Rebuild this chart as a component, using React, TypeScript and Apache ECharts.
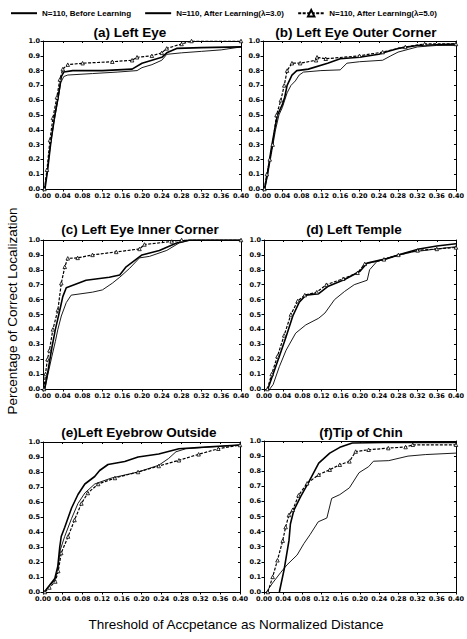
import React, { useEffect, useRef } from "react";
import * as echarts from "echarts";

const seriesNames = [
  "N=110, Before Learning",
  "N=110, After Learning(λ=3.0)",
  "N=110, After Learning(λ=5.0)",
];
const panelTitles = [
  "(a) Left Eye",
  "(b) Left Eye Outer Corner",
  "(c) Left Eye Inner Corner",
  "(d) Left Temple",
  "(e)Left Eyebrow Outside",
  "(f)Tip of Chin",
];
const yAxisName = "Percentage of Correct Localization";
const xAxisName = "Threshold of Accpetance as Normalized Distance";
const xMin = 0, xMax = 0.4, xStep = 0.04;
const yMin = 0, yMax = 1, yStep = 0.1;

// (a) Left Eye
const aBefore = [[0.003,0],[0.008,0.1],[0.015,0.3],[0.022,0.45],[0.03,0.6],[0.036,0.72],[0.042,0.76],[0.05,0.77],[0.1,0.78],[0.15,0.79],[0.19,0.8],[0.2,0.82],[0.22,0.84],[0.24,0.87],[0.25,0.91],[0.28,0.92],[0.32,0.93],[0.36,0.94],[0.4,0.96]];
const aL3 = [[0.004,0],[0.009,0.12],[0.016,0.32],[0.024,0.5],[0.031,0.63],[0.037,0.76],[0.042,0.79],[0.06,0.8],[0.12,0.8],[0.18,0.81],[0.2,0.85],[0.22,0.87],[0.24,0.89],[0.25,0.92],[0.27,0.95],[0.32,0.955],[0.4,0.96]];
const aL5 = [[0.003,0],[0.008,0.13],[0.014,0.33],[0.02,0.48],[0.028,0.62],[0.034,0.74],[0.04,0.81],[0.05,0.84],[0.08,0.85],[0.14,0.86],[0.18,0.87],[0.19,0.89],[0.22,0.9],[0.24,0.92],[0.25,0.95],[0.28,0.98],[0.3,1.0],[0.4,1.0]];
// (b) Left Eye Outer Corner
const bBefore = [[0.004,0],[0.01,0.1],[0.018,0.25],[0.026,0.4],[0.033,0.5],[0.04,0.55],[0.045,0.6],[0.05,0.65],[0.058,0.7],[0.067,0.73],[0.075,0.77],[0.084,0.79],[0.12,0.8],[0.16,0.805],[0.174,0.85],[0.2,0.86],[0.248,0.87],[0.265,0.9],[0.28,0.925],[0.32,0.96],[0.36,0.97],[0.4,0.97]];
const bL3 = [[0.003,0],[0.009,0.1],[0.016,0.25],[0.024,0.4],[0.03,0.5],[0.04,0.57],[0.045,0.62],[0.05,0.7],[0.06,0.77],[0.07,0.8],[0.094,0.81],[0.134,0.85],[0.16,0.88],[0.2,0.89],[0.24,0.91],[0.26,0.93],[0.28,0.95],[0.32,0.97],[0.4,0.98]];
const bL5 = [[0.003,0],[0.008,0.1],[0.014,0.2],[0.02,0.3],[0.028,0.5],[0.037,0.6],[0.044,0.7],[0.05,0.8],[0.06,0.85],[0.077,0.85],[0.11,0.87],[0.112,0.89],[0.13,0.88],[0.2,0.9],[0.248,0.925],[0.295,0.96],[0.335,0.98],[0.4,0.98]];
// (c) Left Eye Inner Corner
const cBefore = [[0.004,0],[0.01,0.1],[0.018,0.22],[0.025,0.32],[0.03,0.4],[0.037,0.49],[0.047,0.58],[0.057,0.63],[0.1,0.65],[0.12,0.665],[0.14,0.71],[0.155,0.75],[0.175,0.81],[0.195,0.88],[0.215,0.89],[0.25,0.93],[0.275,0.98],[0.3,1.0],[0.4,1.0]];
const cL3 = [[0.003,0],[0.01,0.12],[0.018,0.28],[0.025,0.4],[0.034,0.53],[0.04,0.62],[0.047,0.68],[0.087,0.73],[0.134,0.75],[0.155,0.765],[0.168,0.82],[0.188,0.87],[0.2,0.9],[0.235,0.93],[0.27,0.98],[0.295,1.0],[0.4,1.0]];
const cL5 = [[0.002,0],[0.005,0.1],[0.009,0.2],[0.013,0.26],[0.02,0.4],[0.03,0.53],[0.037,0.71],[0.044,0.82],[0.05,0.877],[0.07,0.88],[0.1,0.9],[0.148,0.92],[0.195,0.94],[0.205,0.97],[0.26,0.99],[0.28,1.0],[0.4,1.0]];
// (d) Left Temple
const dBefore = [[0.012,0],[0.019,0.03],[0.032,0.15],[0.046,0.26],[0.066,0.375],[0.087,0.43],[0.114,0.475],[0.127,0.51],[0.147,0.6],[0.168,0.655],[0.188,0.7],[0.215,0.73],[0.22,0.8],[0.235,0.855],[0.27,0.89],[0.31,0.92],[0.36,0.94],[0.4,0.955]];
const dL3 = [[0.008,0],[0.019,0.1],[0.032,0.22],[0.046,0.35],[0.06,0.49],[0.073,0.58],[0.087,0.63],[0.114,0.64],[0.134,0.69],[0.168,0.735],[0.2,0.79],[0.215,0.845],[0.256,0.875],[0.29,0.91],[0.323,0.94],[0.36,0.96],[0.4,0.975]];
const dL5 = [[0.007,0],[0.016,0.1],[0.028,0.22],[0.042,0.36],[0.056,0.5],[0.07,0.59],[0.085,0.63],[0.11,0.65],[0.13,0.7],[0.165,0.74],[0.195,0.78],[0.21,0.84],[0.25,0.87],[0.28,0.9],[0.32,0.93],[0.36,0.94],[0.4,0.95]];
// (e) Left Eyebrow Outside
const eBefore = [[0.003,0],[0.011,0.035],[0.024,0.08],[0.03,0.15],[0.035,0.28],[0.044,0.37],[0.058,0.49],[0.071,0.59],[0.085,0.66],[0.105,0.72],[0.139,0.76],[0.193,0.8],[0.235,0.845],[0.255,0.89],[0.27,0.935],[0.29,0.955],[0.4,0.98]];
const eL3 = [[0.003,0],[0.011,0.035],[0.024,0.09],[0.03,0.17],[0.034,0.3],[0.037,0.37],[0.044,0.43],[0.058,0.56],[0.071,0.65],[0.085,0.72],[0.105,0.77],[0.115,0.81],[0.132,0.85],[0.166,0.87],[0.193,0.9],[0.235,0.92],[0.276,0.955],[0.33,0.967],[0.4,0.98]];
const eL5 = [[0.004,0],[0.013,0.03],[0.025,0.07],[0.031,0.14],[0.037,0.26],[0.051,0.37],[0.064,0.48],[0.078,0.59],[0.091,0.66],[0.112,0.72],[0.146,0.76],[0.193,0.8],[0.235,0.84],[0.276,0.878],[0.316,0.918],[0.356,0.955],[0.4,0.98]];
// (f) Tip of Chin
const fBefore = [[0.005,0],[0.018,0.06],[0.035,0.13],[0.048,0.18],[0.069,0.245],[0.083,0.32],[0.096,0.38],[0.113,0.465],[0.131,0.49],[0.141,0.62],[0.158,0.645],[0.178,0.69],[0.198,0.79],[0.218,0.83],[0.228,0.866],[0.26,0.87],[0.3,0.9],[0.336,0.91],[0.4,0.92]];
const fL3 = [[0.032,0],[0.042,0.15],[0.052,0.34],[0.055,0.45],[0.062,0.54],[0.076,0.63],[0.094,0.733],[0.114,0.854],[0.137,0.92],[0.158,0.958],[0.184,0.987],[0.25,0.99],[0.4,0.99]];
const fL5 = [[0.008,0],[0.018,0.1],[0.028,0.21],[0.039,0.34],[0.045,0.43],[0.052,0.51],[0.06,0.545],[0.072,0.64],[0.09,0.72],[0.114,0.777],[0.137,0.81],[0.158,0.843],[0.178,0.865],[0.191,0.93],[0.218,0.942],[0.259,0.953],[0.295,0.96],[0.31,0.975],[0.4,0.975]];

const panelData = [
  [aBefore, aL3, aL5],
  [bBefore, bL3, bL5],
  [cBefore, cL3, cL5],
  [dBefore, dL3, dL5],
  [eBefore, eL3, eL5],
  [fBefore, fL3, fL5],
];

// layout (pixels)
const grids = [
  { left: 43, top: 41, width: 198, height: 148 },
  { left: 263, top: 41, width: 199, height: 148 },
  { left: 43, top: 240, width: 198, height: 149 },
  { left: 264, top: 240, width: 197, height: 149 },
  { left: 43, top: 442, width: 197, height: 150 },
  { left: 264, top: 441, width: 198, height: 151 },
];
const titlePos = [
  [130, 32], [356, 32], [140, 229], [354, 229], [139, 432], [361, 432],
];

const tickFont = { fontSize: 6.5, fontWeight: "bold" as const, fontFamily: "DejaVu Sans", color: "#000" };

export default function App() {
  const ref = useRef<HTMLDivElement>(null);
  useEffect(() => {
    if (!ref.current) return;
    const chart = echarts.init(ref.current, undefined, { renderer: "svg" });
    const xAxes: any[] = [];
    const yAxes: any[] = [];
    const series: any[] = [];
    const axisLine = { show: true, onZero: false, lineStyle: { color: "#000", width: 1 } };
    grids.forEach((g, i) => {
      xAxes.push({
        gridIndex: i, type: "value", min: xMin, max: xMax, interval: xStep,
        axisLine, axisTick: { show: true, length: 2.5, lineStyle: { color: "#000" } },
        axisLabel: { ...tickFont, margin: 3, showMaxLabel: true, showMinLabel: true, formatter: (v: number) => v.toFixed(2) },
        splitLine: { show: false },
      });
      yAxes.push({
        gridIndex: i, type: "value", min: yMin, max: yMax, interval: yStep,
        axisLine, axisTick: { show: true, length: 2.5, lineStyle: { color: "#000" } },
        axisLabel: { ...tickFont, margin: 3, formatter: (v: number) => v.toFixed(1) },
        splitLine: { show: false },
      });
    });
    grids.forEach((g, i) => {
      xAxes.push({
        gridIndex: i, type: "value", position: "top", min: xMin, max: xMax, interval: xStep,
        axisLine, axisTick: { show: true, inside: true, length: 2, lineStyle: { color: "#000" } },
        axisLabel: { show: false }, splitLine: { show: false },
      });
      yAxes.push({
        gridIndex: i, type: "value", position: "right", min: yMin, max: yMax, interval: yStep,
        axisLine, axisTick: { show: true, inside: true, length: 2, lineStyle: { color: "#000" } },
        axisLabel: { show: false }, splitLine: { show: false },
      });
    });
    panelData.forEach((sets, i) => {
      series.push({
        name: seriesNames[0], type: "line", xAxisIndex: i, yAxisIndex: i,
        data: sets[0], symbol: "none", lineStyle: { color: "#000", width: 0.9 },
        itemStyle: { color: "#000" },
      });
      series.push({
        name: seriesNames[1], type: "line", xAxisIndex: i, yAxisIndex: i,
        data: sets[1], symbol: "none", lineStyle: { color: "#000", width: 1.6 },
        itemStyle: { color: "#000" },
      });
      series.push({
        name: seriesNames[2], type: "line", xAxisIndex: i, yAxisIndex: i,
        data: sets[2], symbol: "triangle", symbolSize: 3.5,
        lineStyle: { color: "#000", width: 1.2, type: [3, 1.5] },
        itemStyle: { color: "#fff", borderColor: "#000", borderWidth: 0.8 },
      });
    });
    const graphic: any[] = [];
    panelTitles.forEach((t, i) => {
      graphic.push({
        type: "text", x: titlePos[i][0], y: titlePos[i][1],
        style: { text: t, fill: "#000", font: "bold 13.5px 'Liberation Sans', Arial, sans-serif", textAlign: "center", textVerticalAlign: "middle" },
      });
    });
    graphic.push({
      type: "text", x: 12, y: 311, rotation: Math.PI / 2,
      style: { text: yAxisName, fill: "#000", font: "13.5px 'Liberation Sans', Arial, sans-serif", textAlign: "center", textVerticalAlign: "middle" },
    });
    graphic.push({
      type: "text", x: 236, y: 624,
      style: { text: xAxisName, fill: "#000", font: "13.5px 'Liberation Sans', Arial, sans-serif", textAlign: "center", textVerticalAlign: "middle" },
    });
    chart.setOption({
      animation: false,
      backgroundColor: "#fff",
      legend: {
        data: [
          { name: seriesNames[0], itemStyle: { opacity: 0 } },
          { name: seriesNames[1], itemStyle: { opacity: 0 } },
          { name: seriesNames[2] },
        ],
        left: 5, top: 4, width: 470, itemWidth: 26, itemHeight: 8, itemGap: 13,
        textStyle: { fontSize: 8, fontWeight: "bold", fontFamily: "Liberation Sans", color: "#000" },
        selectedMode: false,
      },
      grid: grids.map((g) => ({ ...g, show: false, containLabel: false })),
      xAxis: xAxes,
      yAxis: yAxes,
      series,
      graphic,
    });
    return () => chart.dispose();
  }, []);
  return <div ref={ref} style={{ position: "absolute", left: 0, top: 0, width: 467, height: 639 }} />;
}
